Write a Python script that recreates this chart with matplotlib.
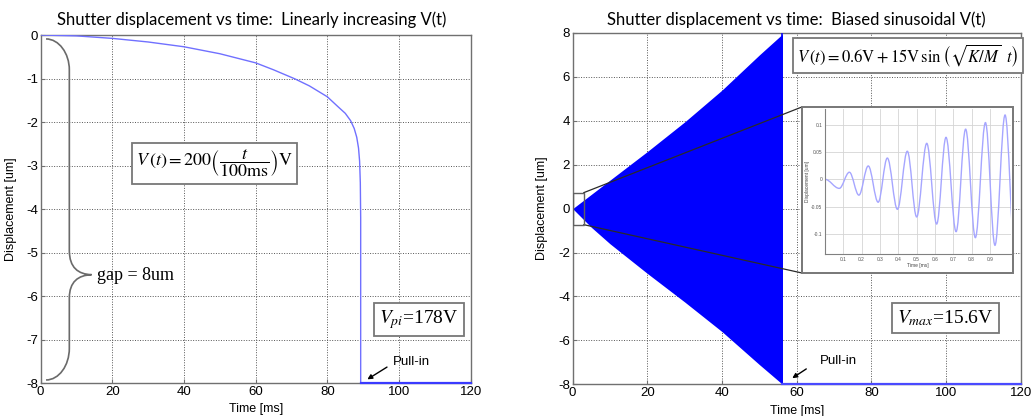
import numpy as np
import matplotlib
matplotlib.use('Agg')
import matplotlib.pyplot as plt
from matplotlib.path import Path
from matplotlib.patches import PathPatch, Rectangle

plt.rcParams['mathtext.fontset'] = 'stix'
plt.rcParams['font.family'] = ['Liberation Sans', 'DejaVu Sans']
plt.rcParams['axes.unicode_minus'] = False

# ---- left panel: linearly increasing V(t), displacement
lin_t = [0, 10, 20, 30, 40, 50, 60, 65, 71, 75, 80, 83, 85, 86.5, 87.5, 88.2, 88.7,
         89.0, 89.2, 89.3, 89.3, 120]
lin_disp = [0, -0.02, -0.077, -0.16, -0.27, -0.43, -0.64, -0.80, -1.01, -1.17, -1.42,
            -1.65, -1.80, -1.97, -2.15, -2.35, -2.6, -2.9, -3.4, -4.2, -8.0, -8.0]
lin_pullin_t = 89.3

# ---- right panel: biased sinusoidal V(t), envelope of the dense oscillation
env_t = [0, 5, 10, 20, 30, 40, 50, 56.2]
env_upper = [0, 0.65, 1.3, 2.6, 3.95, 5.4, 7.0, 7.95]
env_lower = [0, -0.85, -1.6, -2.95, -4.25, -5.6, -7.1, -8.0]
sin_pullin_t = 56.2
after_t = [56.2, 120]
after_disp = [-8, -8]

# ---- inset: first millisecond, peaks and troughs
zoom_t = [0.0, 0.078, 0.133, 0.185, 0.236, 0.290, 0.340, 0.395, 0.449, 0.500, 0.555,
          0.609, 0.660, 0.715, 0.767, 0.820, 0.875, 0.927, 0.982, 1.036]
zoom_disp = [0.0, -0.0166, 0.013, -0.029, 0.0245, -0.042, 0.039, -0.055, 0.0515, -0.069,
             0.066, -0.082, 0.077, -0.096, 0.092, -0.107, 0.104, -0.121, 0.118, -0.136]

x_ticks = [0, 20, 40, 60, 80, 100, 120]
left_yticks = [0, -1, -2, -3, -4, -5, -6, -7, -8]
right_yticks = [8, 6, 4, 2, 0, -2, -4, -6, -8]
inset_xticks = [0.1, 0.2, 0.3, 0.4, 0.5, 0.6, 0.7, 0.8, 0.9]
inset_yticks = [0.1, 0.05, 0, -0.05, -0.1]
inset_yticklabels = ['0.1', '0.05', '0', '-0.05', '-0.1']

BOX = dict(boxstyle='square,pad=0.25', fc='white', ec='#777777', lw=1.3)


def style_axes(ax):
    for s in ax.spines.values():
        s.set_color('#707070')
        s.set_linewidth(1.0)
    ax.tick_params(direction='in', length=3, color='#707070', labelsize=9.5, pad=2)
    ax.grid(True, color='#555555', linestyle=(0, (1, 1.6)), linewidth=0.7)
    ax.set_axisbelow(True)


def smooth_path(ts, ys, c=0.36):
    verts = [(ts[0], ys[0])]
    codes = [Path.MOVETO]
    for i in range(len(ts) - 1):
        dt = ts[i + 1] - ts[i]
        verts += [(ts[i] + c * dt, ys[i]), (ts[i + 1] - c * dt, ys[i + 1]), (ts[i + 1], ys[i + 1])]
        codes += [Path.CURVE4] * 3
    return Path(verts, codes)


fig = plt.figure(figsize=(10.32, 4.16), dpi=100)

# ================= left
ax1 = fig.add_axes([0.0394, 0.0793, 0.4167, 0.8365])
style_axes(ax1)
ax1.plot(lin_t, lin_disp, color='#7070ff', lw=1.0, zorder=3)
ax1.plot([lin_pullin_t, 120], [-8, -8], color='#3a3aff', lw=1.6, zorder=4, clip_on=False)
ax1.set_xlim(0, 120)
ax1.set_ylim(-8, 0)
ax1.set_xticks(x_ticks)
ax1.set_yticks(left_yticks)
ax1.set_xlabel('Time [ms]', fontsize=9)
ax1.set_ylabel('Displacement [um]', fontsize=9)
ax1.xaxis.set_label_coords(0.5, -0.058)
ax1.yaxis.set_label_coords(-0.055, 0.5)
ax1.text(0.49, 1.043, 'Shutter displacement vs time:  Linearly increasing V(t)',
         transform=ax1.transAxes, ha='center', va='center', fontsize=12, family='Lato')

# curly brace for the gap
bv = [(1.5, -0.09), (5.1, -0.09), (8.0, -0.42), (8.0, -0.8),
      (8.0, -4.95),
      (8.0, -5.35), (10.5, -5.5), (14.2, -5.51),
      (10.5, -5.52), (8.0, -5.67), (8.0, -6.05),
      (8.0, -7.2),
      (8.0, -7.6), (5.1, -7.93), (1.5, -7.93)]
bc = [Path.MOVETO, Path.CURVE4, Path.CURVE4, Path.CURVE4, Path.LINETO,
      Path.CURVE4, Path.CURVE4, Path.CURVE4, Path.CURVE4, Path.CURVE4, Path.CURVE4,
      Path.LINETO, Path.CURVE4, Path.CURVE4, Path.CURVE4]
ax1.add_patch(PathPatch(Path(bv, bc), fill=False, ec='#6a6a6a', lw=1.2, zorder=4))
ax1.text(15.7, -5.52, 'gap = 8um', family='Liberation Serif', fontsize=13, va='center', ha='left')

ax1.text(0.404, 0.631, r'$V\,(t) = 200\left(\dfrac{t}{100\mathrm{ms}}\right)\mathrm{V}$',
         transform=ax1.transAxes, ha='center', va='center', fontsize=13, bbox=BOX, zorder=5)
ax1.text(0.880, 0.1825, r'$V_{pi}$=178V', family='Liberation Serif',
         transform=ax1.transAxes, ha='center', va='center', fontsize=14, bbox=BOX, zorder=5)
ax1.annotate('', xy=(90.5, -7.95), xytext=(97.3, -7.6),
             arrowprops=dict(arrowstyle='-|>', color='black', lw=1.0, mutation_scale=7))
ax1.text(98.4, -7.51, 'Pull-in', fontsize=9.5, va='center', ha='left')

# ================= right
ax2 = fig.add_axes([0.5549, 0.0762, 0.4341, 0.8445])
style_axes(ax2)
ax2.fill_between(env_t, env_lower, env_upper, color='#0000ff', lw=0, zorder=3)
ax2.plot([sin_pullin_t, sin_pullin_t], [env_lower[-1], env_upper[-1]], color='#0000ff', lw=1.2, zorder=3)
ax2.plot(after_t, after_disp, color='#4a4aff', lw=1.6, zorder=4, clip_on=False)
ax2.set_xlim(0, 120)
ax2.set_ylim(-8, 8)
ax2.set_xticks(x_ticks)
ax2.set_yticks(right_yticks)
ax2.set_xlabel('Time [ms]', fontsize=9)
ax2.set_ylabel('Displacement [um]', fontsize=9)
ax2.xaxis.set_label_coords(0.5, -0.058)
ax2.yaxis.set_label_coords(-0.055, 0.5)
ax2.text(0.5, 1.037, 'Shutter displacement vs time:  Biased sinusoidal V(t)',
         transform=ax2.transAxes, ha='center', va='center', fontsize=12, family='Lato')

ax2.text(0.748, 0.936,
         r'$V\,(t) = 0.6\mathrm{V} + 15\mathrm{V}\,\sin\left(\sqrt{K/M}\;\;t\right)$',
         transform=ax2.transAxes, ha='center', va='center', fontsize=12, bbox=BOX, zorder=5)
ax2.text(0.832, 0.189, r'$V_{max}$=15.6V', family='Liberation Serif',
         transform=ax2.transAxes, ha='center', va='center', fontsize=14, bbox=BOX, zorder=5)
ax2.annotate('', xy=(58.2, -7.79), xytext=(63.2, -7.23),
             arrowprops=dict(arrowstyle='-|>', color='black', lw=1.0, mutation_scale=7))
ax2.text(66.1, -6.95, 'Pull-in', fontsize=9.5, va='center', ha='left')

# zoom marker, inset frame and connectors
ax2.add_patch(Rectangle((0, -0.73), 3.0, 1.46, fill=False, ec='#606060', lw=1.0, zorder=5))
ax2.add_patch(Rectangle((61.4, -2.93), 56.6, 7.56, fc='white', ec='#777777', lw=1.4, zorder=5))
ax2.plot([3.0, 61.4], [0.73, 4.63], color='#2a2a2a', lw=0.9, zorder=4)
ax2.plot([3.0, 61.4], [-0.73, -2.93], color='#2a2a2a', lw=0.9, zorder=4)

ax3 = fig.add_axes([0.7994, 0.3894, 0.18, 0.3486])
ax3.set_zorder(10)
for side in ['top', 'right']:
    ax3.spines[side].set_visible(False)
for side in ['left', 'bottom']:
    ax3.spines[side].set_color('#808080')
    ax3.spines[side].set_linewidth(0.8)
ax3.grid(True, color='#d4d4d4', linewidth=0.6)
ax3.set_axisbelow(True)
ax3.add_patch(PathPatch(smooth_path(zoom_t, zoom_disp), fill=False, ec='#a6a6ff', lw=1.0))
ax3.set_xlim(0, 1.013)
ax3.set_ylim(-0.137, 0.129)
ax3.set_xticks(inset_xticks)
ax3.set_yticks(inset_yticks)
ax3.set_yticklabels(inset_yticklabels)
ax3.tick_params(length=0, labelsize=3.5, pad=2, colors='#555555')
ax3.set_xlabel('Time [ms]', fontsize=3.5, labelpad=1, color='#444444')
ax3.set_ylabel('Displacement [um]', fontsize=3.5, labelpad=1, color='#444444')

fig.savefig('out.png', dpi=100)
